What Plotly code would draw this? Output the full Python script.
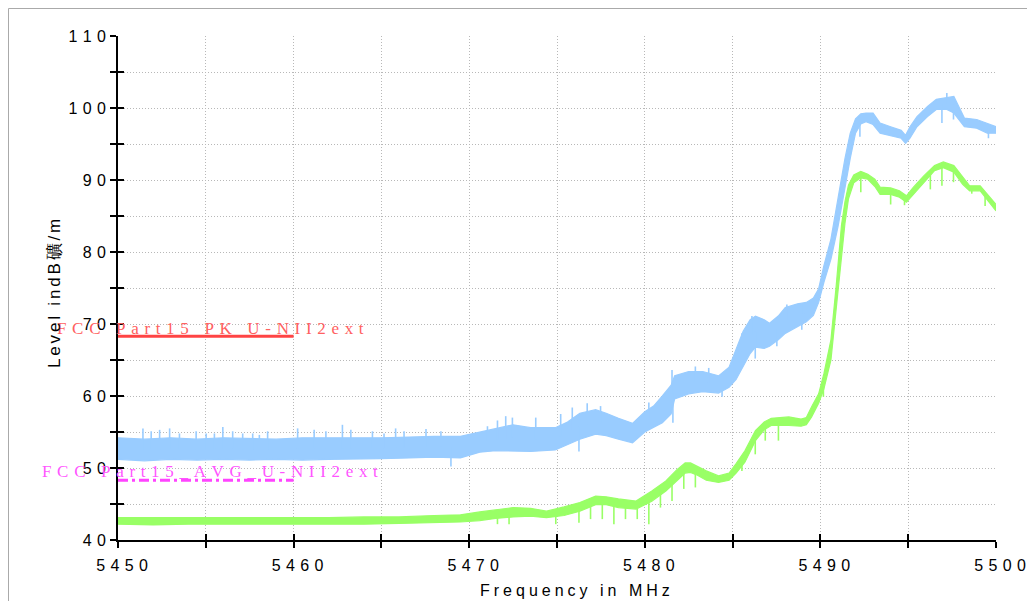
import numpy as np
import plotly.graph_objects as go

# ---------------- data ----------------
pk_freq = [5450.0, 5451.5, 5453.0, 5454.5, 5456.0, 5457.5, 5459.0, 5460.5, 5462.0, 5463.5,
           5465.0, 5466.6, 5468.0, 5469.5, 5470.6, 5471.5, 5472.5, 5473.5, 5474.9, 5475.6,
           5476.3, 5477.2, 5477.8, 5478.5, 5479.3, 5480.0, 5480.5, 5481.0, 5481.5, 5481.7,
           5482.5, 5483.3, 5484.2, 5484.8, 5485.2, 5485.6, 5486.0, 5486.3, 5486.8, 5487.1,
           5487.6, 5488.0, 5488.7, 5489.2, 5489.6, 5489.9, 5490.2, 5490.6, 5491.0, 5491.4,
           5491.7, 5492.0, 5492.3, 5492.6, 5493.0, 5493.4, 5494.0, 5494.6, 5494.85, 5495.1,
           5495.5, 5496.1, 5496.6, 5497.2, 5497.6, 5498.0, 5498.2, 5498.9, 5499.5, 5500.0]
pk_low = [51.2, 51.0, 51.2, 51.1, 51.2, 51.1, 51.2, 51.1, 51.2, 51.2,
          51.3, 51.4, 51.5, 51.4, 52.2, 52.4, 52.4, 52.3, 52.5, 53.2,
          54.0, 54.7, 54.5, 54.0, 53.5, 55.0, 55.6, 56.3, 57.5, 59.6,
          60.3, 60.6, 60.4, 61.2, 62.3, 64.2, 65.9, 66.8, 66.6, 66.9,
          67.8, 68.7, 69.6, 70.3, 71.2, 73.0, 75.8, 79.0, 83.5, 89.0,
          93.0, 96.5, 97.8, 98.1, 97.7, 96.5, 96.2, 95.8, 95.1, 95.8,
          97.4, 98.8, 99.8, 99.8, 99.3, 98.0, 97.4, 97.2, 96.5, 96.5]
pk_high = [54.2, 54.0, 54.2, 54.0, 54.2, 54.1, 54.0, 54.2, 54.2, 54.1,
           54.2, 54.3, 54.4, 54.4, 55.0, 55.4, 56.0, 55.6, 55.6, 56.4,
           57.6, 58.1, 57.6, 56.9, 56.2, 57.8, 58.6, 60.0, 61.5, 62.8,
           63.4, 63.4, 62.8, 64.0, 66.5, 69.0, 70.6, 71.1, 70.6, 70.1,
           71.1, 72.3, 72.8, 73.0, 73.6, 74.9, 78.1, 81.8, 87.4, 93.0,
           96.5, 98.5, 99.2, 99.3, 99.3, 97.9, 97.4, 96.9, 96.2, 97.4,
           98.8, 100.2, 101.2, 101.4, 101.6, 99.6, 98.6, 98.4, 97.9, 97.4]

# isolated peak-detector spikes (frequency, tip level)
pk_spike_freq = [5451.42, 5451.89, 5452.37, 5452.94, 5453.50, 5454.45, 5455.02, 5455.49,
                 5455.97, 5456.53, 5457.10, 5457.67, 5458.05, 5458.52, 5460.23, 5461.17,
                 5461.84, 5462.78, 5463.26, 5464.49, 5465.15, 5465.81, 5466.29, 5467.54,
                 5468.39, 5471.04, 5471.61, 5472.08, 5472.46, 5473.79, 5475.21, 5475.87,
                 5476.72, 5477.48, 5480.23, 5481.55, 5497.20,
                 5482.88, 5483.64, 5485.53, 5486.10, 5487.80, 5488.09, 5489.03,
                 5468.96, 5476.25, 5481.60, 5484.40, 5486.29, 5487.52, 5488.94,
                 5492.25, 5493.02, 5496.92, 5497.58, 5499.57]
pk_spike_level = [55.5, 55.1, 55.3, 55.5, 54.8, 55.1, 54.8, 54.8,
                  55.7, 55.1, 54.8, 54.8, 54.6, 55.1, 55.5, 55.3,
                  55.1, 56.0, 55.3, 55.1, 54.8, 55.5, 55.1, 55.4,
                  55.1, 55.8, 56.6, 57.2, 57.0, 57.0, 57.5, 58.4,
                  59.0, 58.6, 59.1, 63.6, 102.1,
                  64.1, 63.9, 68.7, 71.1, 71.1, 72.7, 72.9,
                  50.2, 52.3, 56.3, 59.9, 65.2, 66.9, 69.2,
                  96.0, 97.7, 97.9, 98.4, 95.8]

av_freq = [5450.0, 5452.0, 5454.0, 5456.0, 5458.0, 5460.0, 5462.0, 5464.0, 5466.0, 5468.0,
           5469.5, 5470.6, 5471.5, 5472.5, 5473.5, 5474.4, 5475.4, 5476.3, 5477.2, 5477.8,
           5478.5, 5479.5, 5480.4, 5481.2, 5481.8, 5482.3, 5482.6, 5483.0, 5483.5, 5484.2,
           5484.8, 5485.2, 5485.7, 5486.3, 5486.8, 5487.2, 5488.2, 5488.9, 5489.2, 5489.5,
           5489.9, 5490.2, 5490.6, 5490.9, 5491.2, 5491.4, 5491.6, 5491.9, 5492.3, 5492.7,
           5493.1, 5493.4, 5494.0, 5494.5, 5494.9, 5495.3, 5495.9, 5496.5, 5497.0, 5497.6,
           5498.1, 5498.5, 5499.1, 5499.6, 5500.0]
av_low = [42.2, 42.1, 42.2, 42.2, 42.2, 42.1, 42.2, 42.2, 42.3, 42.4,
          42.5, 42.7, 43.0, 43.2, 43.3, 43.1, 43.4, 44.0, 44.9, 44.9,
          44.5, 44.3, 45.4, 46.8, 48.2, 49.3, 49.4, 49.0, 48.3, 48.0,
          48.3, 49.3, 50.8, 53.8, 55.3, 55.9, 55.9, 55.8, 56.0, 57.1,
          59.0, 61.0, 65.0, 72.0, 80.0, 84.0, 87.4, 89.6, 90.3, 90.1,
          89.1, 88.0, 88.0, 87.6, 86.9, 88.0, 89.7, 91.3, 91.7, 91.1,
          89.4, 88.5, 88.5, 86.9, 85.7]
av_high = [43.1, 43.1, 43.0, 43.1, 43.1, 43.0, 43.1, 43.2, 43.2, 43.4,
           43.5, 43.9, 44.2, 44.5, 44.4, 44.0, 44.6, 45.2, 46.1, 46.0,
           45.7, 45.4, 46.8, 48.2, 49.7, 50.7, 50.7, 50.2, 49.6, 48.9,
           49.3, 50.6, 52.4, 55.2, 56.4, 56.9, 57.1, 56.8, 57.0, 58.5,
           60.3, 63.1, 67.8, 75.3, 83.7, 87.0, 89.3, 90.7, 91.2, 90.8,
           90.1, 89.0, 88.9, 88.5, 87.8, 89.0, 90.6, 92.0, 92.5, 92.0,
           90.4, 89.2, 89.2, 87.8, 86.6]

# average-detector dips (frequency, tip level)
av_dip_freq = [5471.61, 5472.27, 5474.93, 5476.25, 5476.91, 5477.58, 5478.24, 5478.90,
               5479.57, 5480.23, 5480.89, 5481.55, 5482.22, 5482.88, 5485.53, 5486.29,
               5486.86, 5487.61, 5490.17, 5492.30, 5494.00, 5494.79, 5496.26, 5496.92,
               5497.58, 5498.62, 5499.38]
av_dip_level = [42.2, 42.2, 42.2, 42.4, 42.9, 42.9, 42.2, 42.9,
                42.9, 42.2, 44.5, 45.4, 47.1, 47.3, 49.6, 51.9,
                53.8, 53.8, 59.9, 88.3, 86.6, 86.5, 88.7, 89.2,
                89.7, 88.1, 86.4]

limit_freq = [5450, 5460]
limit_pk = 68.3
limit_av = 48.3
limit_pk_name = "FCC Part15 PK U-NII2ext"
limit_av_name = "FCC Part15_AVG_U-NII2ext"

x_ticks = list(range(5450, 5501, 5))
y_ticks = list(range(40, 111, 5))
x_title = "Frequency in MHz"
y_title = "Level indB礦/m"

# ---------------- styling ----------------
BLUE = "#99CCFF"
GREEN = "#99FF66"
RED = "#FF4444"
MAGENTA = "#FF44FF"
SANS = "Liberation Sans, Arial, sans-serif"
SERIF = "Liberation Serif, Times New Roman, serif"


def spaced(s, sep):
    return sep.join(s)


def band(fig, f, lo, hi, color):
    fig.add_trace(go.Scatter(x=f, y=hi, mode="lines", line=dict(color=color, width=1.2),
                             showlegend=False, hoverinfo="skip"))
    fig.add_trace(go.Scatter(x=f, y=lo, mode="lines", line=dict(color=color, width=1.2),
                             fill="tonexty", fillcolor=color, showlegend=False, hoverinfo="skip"))


def spikes(fig, f, lo, hi, sf, sl, color):
    mid = (np.array(lo) + np.array(hi)) / 2.0
    xs, ys = [], []
    for fx, lv in zip(sf, sl):
        base = float(np.interp(fx, f, mid))
        xs += [fx, fx, None]
        ys += [base, lv, None]
    fig.add_trace(go.Scatter(x=xs, y=ys, mode="lines", line=dict(color=color, width=1.6),
                             showlegend=False, hoverinfo="skip", connectgaps=False))


fig = go.Figure()
band(fig, pk_freq, pk_low, pk_high, BLUE)
spikes(fig, pk_freq, pk_low, pk_high, pk_spike_freq, pk_spike_level, BLUE)
band(fig, av_freq, av_low, av_high, GREEN)
spikes(fig, av_freq, av_low, av_high, av_dip_freq, av_dip_level, GREEN)

fig.add_trace(go.Scatter(x=limit_freq, y=[limit_pk, limit_pk], mode="lines",
                         line=dict(color=RED, width=3), showlegend=False, hoverinfo="skip"))
fig.add_trace(go.Scatter(x=limit_freq, y=[limit_av, limit_av], mode="lines",
                         line=dict(color=MAGENTA, width=3, dash="10px,4px,3px,4px"),
                         showlegend=False, hoverinfo="skip"))
# dummy trace for the overlay axes (inner half of the crossing ticks)
fig.add_trace(go.Scatter(x=[None], y=[None], xaxis="x2", yaxis="y2", showlegend=False,
                         hoverinfo="skip"))

x_text = ["\u2002" + spaced(str(v), "\u2004") if v % 10 == 0 else "" for v in x_ticks]
y_text = [spaced(str(v), "\u2004") if v % 10 == 0 else "" for v in y_ticks]

# page body adds an 8 px offset, so figure coords = page coords - 8
OFF = 8
W, H = 1035 - OFF, 601 - OFF
L, T = 118 - OFF, 36 - OFF
pw, ph = 878, 504
R, B = W - L - pw, H - T - ph


def px_x(p):
    return (p - OFF - L) / pw


def px_y(p):
    return (T + ph - (p - OFF)) / ph


axis_common = dict(showline=True, linecolor="black", linewidth=2, ticks="outside",
                   ticklen=6, tickwidth=2, tickcolor="black", mirror=False, zeroline=False,
                   automargin=False,
                   tickfont=dict(family=SANS, size=16, color="black"),
                   showgrid=True, gridcolor="#B8B8B8", griddash="1px,2px", gridwidth=1)

fig.update_layout(
    width=W, height=H,
    margin=dict(l=L, r=R, t=T, b=B, pad=0, autoexpand=False),
    paper_bgcolor="white", plot_bgcolor="white",
    showlegend=False,
    xaxis=dict(range=[5450, 5500], tickmode="array", tickvals=x_ticks, ticktext=x_text,
               ticklabelstandoff=4, **axis_common),
    yaxis=dict(range=[40, 110], tickmode="array", tickvals=y_ticks, ticktext=y_text,
               ticklabelstandoff=1, **axis_common),
    xaxis2=dict(range=[5450, 5500], overlaying="x", anchor="y2", side="bottom",
                tickmode="array", tickvals=x_ticks, ticks="inside", ticklen=6, tickwidth=2,
                tickcolor="black", showticklabels=False, showgrid=False, showline=False,
                zeroline=False, automargin=False),
    yaxis2=dict(range=[40, 110], overlaying="y", anchor="x2", side="left",
                tickmode="array", tickvals=y_ticks, ticks="inside", ticklen=6, tickwidth=2,
                tickcolor="black", showticklabels=False, showgrid=False, showline=False,
                zeroline=False, automargin=False),
)

fig.add_shape(type="rect", xref="paper", yref="paper",
              x0=px_x(8.5), x1=px_x(1030), y0=px_y(640), y1=px_y(8.5),
              line=dict(color="#AAAAAA", width=1), fillcolor="rgba(0,0,0,0)", layer="below")

fig.add_annotation(text=spaced(limit_pk_name, "\u2004"), xref="paper", yref="y",
                   x=px_x(55), y=limit_pk, yshift=8, xanchor="left", yanchor="middle",
                   showarrow=False, font=dict(family=SERIF, size=17, color="#FF6060"))
fig.add_annotation(text=spaced(limit_av_name, "\u2004"), xref="paper", yref="y",
                   x=px_x(40), y=limit_av, yshift=9, xanchor="left", yanchor="middle",
                   showarrow=False, font=dict(family=SERIF, size=17, color="#FF55FF"))

fig.add_annotation(text=spaced(x_title, "\u2005"), xref="paper", yref="paper",
                   x=px_x(575), y=px_y(590), xanchor="center", yanchor="middle",
                   showarrow=False, font=dict(family=SANS, size=16, color="black"))
fig.add_annotation(text=spaced(y_title, "\u2006"), xref="paper", yref="paper",
                   x=px_x(54), y=px_y(294), xanchor="center", yanchor="middle", textangle=-90,
                   showarrow=False, font=dict(family=SANS, size=17, color="black"))

fig.write_html("out.html")
